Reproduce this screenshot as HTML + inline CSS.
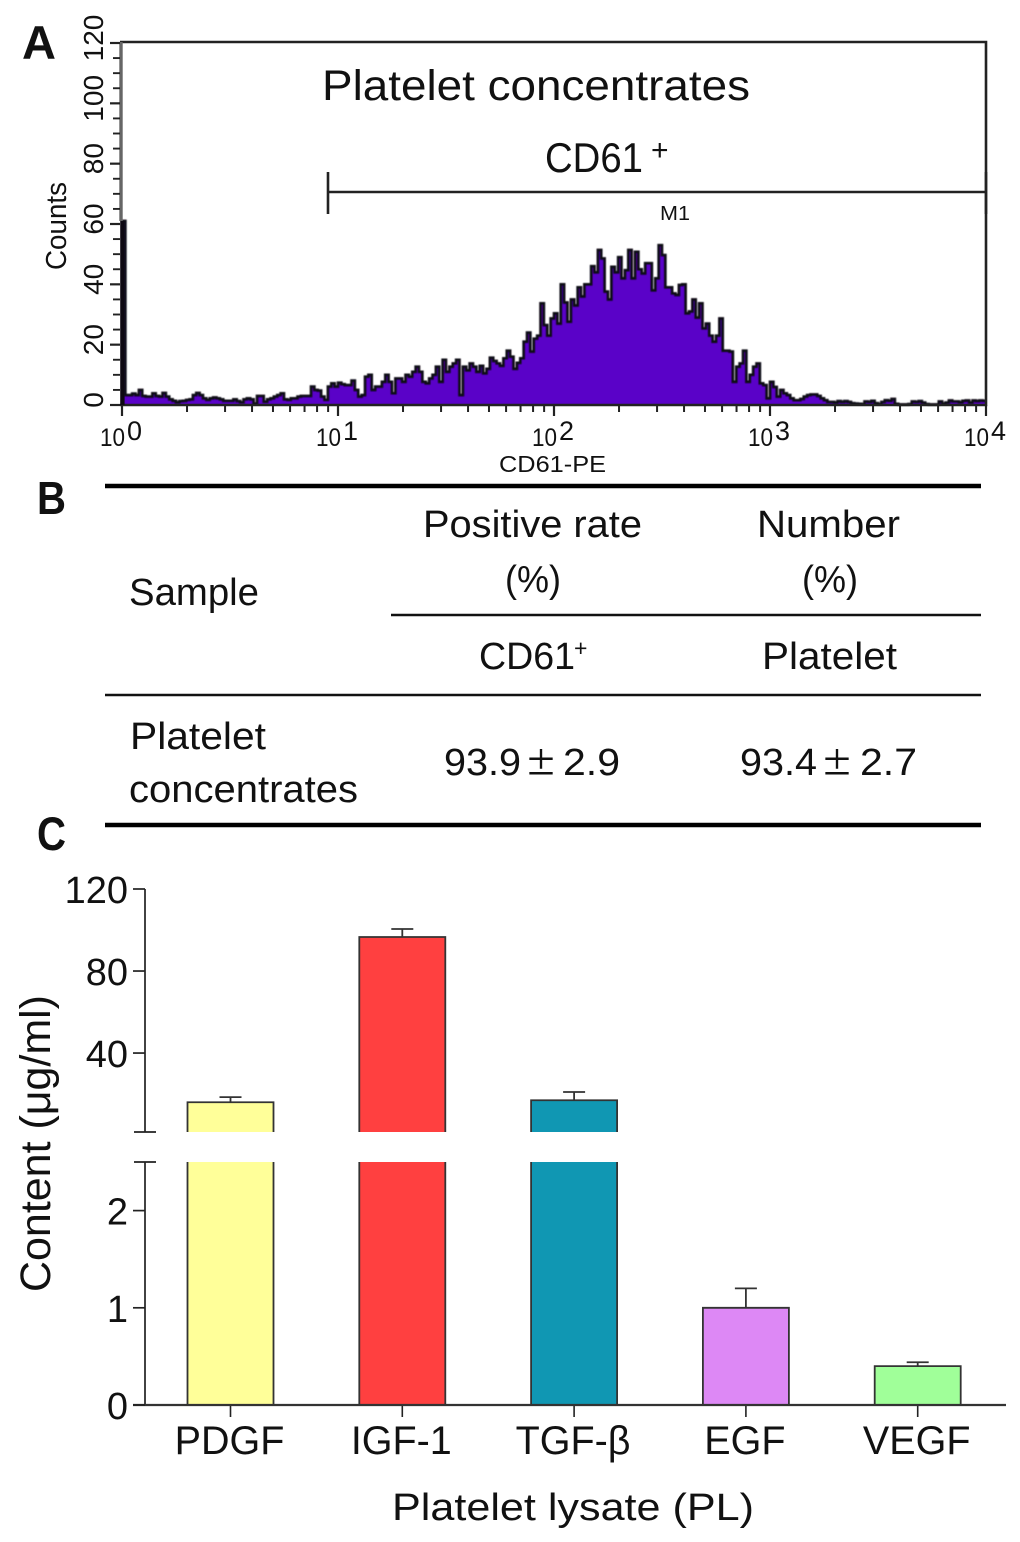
<!DOCTYPE html>
<html lang="en">
<head>
<meta charset="utf-8">
<title>Platelet concentrates figure</title>
<style>
html,body{margin:0;padding:0;background:#fff;}
svg{display:block;}
text{font-family:"Liberation Sans","Noto Sans CJK JP",sans-serif;fill:#111;}
</style>
</head>
<body>
<svg id="fig" xmlns="http://www.w3.org/2000/svg" width="1020" height="1542" viewBox="0 0 1020 1542">
  <defs>
    <filter id="soft" x="-2%" y="-5%" width="104%" height="110%"><feGaussianBlur stdDeviation="0.55"/></filter>
  </defs>
  <rect x="0" y="0" width="1020" height="1542" fill="#fff"/>

  <text x="22" y="59" font-size="47" font-weight="bold" textLength="34" lengthAdjust="spacingAndGlyphs">A</text>
  <text x="37" y="514" font-size="46" font-weight="bold" textLength="29" lengthAdjust="spacingAndGlyphs">B</text>
  <text x="37" y="850" font-size="47" font-weight="bold" textLength="29" lengthAdjust="spacingAndGlyphs">C</text>

  <g id="histogram"></g>
  <text x="322" y="100" font-size="43" textLength="428" lengthAdjust="spacingAndGlyphs" fill="#222">Platelet concentrates</text>
  <text x="545" y="172" font-size="42" textLength="98" lengthAdjust="spacingAndGlyphs">CD61</text>
  <text x="651" y="160" font-size="30">+</text>
  <text x="660" y="220" font-size="20" textLength="30" lengthAdjust="spacingAndGlyphs" fill="#333">M1</text>
  <text x="499" y="472" font-size="23" textLength="107" lengthAdjust="spacingAndGlyphs" fill="#222">CD61-PE</text>
  <text transform="translate(66 270) rotate(-90)" font-size="29" textLength="88" lengthAdjust="spacingAndGlyphs" fill="#222">Counts</text>

  <g>
    <line x1="105" x2="981" y1="486" y2="486" stroke="#000" stroke-width="4.5"/>
    <line x1="391" x2="981" y1="615" y2="615" stroke="#111" stroke-width="2.5"/>
    <line x1="105" x2="981" y1="695" y2="695" stroke="#111" stroke-width="2.5"/>
    <line x1="105" x2="981" y1="825" y2="825" stroke="#000" stroke-width="4.5"/>
    <text x="423" y="537" font-size="38" textLength="219" lengthAdjust="spacingAndGlyphs">Positive rate</text>
    <text x="505" y="592" font-size="38" textLength="56" lengthAdjust="spacingAndGlyphs">(%)</text>
    <text x="757" y="537" font-size="38" textLength="143" lengthAdjust="spacingAndGlyphs">Number</text>
    <text x="802" y="592" font-size="38" textLength="56" lengthAdjust="spacingAndGlyphs">(%)</text>
    <text x="129" y="605" font-size="38" textLength="130" lengthAdjust="spacingAndGlyphs">Sample</text>
    <text x="479" y="669" font-size="38" textLength="96" lengthAdjust="spacingAndGlyphs">CD61</text>
    <text x="574" y="656" font-size="23">+</text>
    <text x="762" y="669" font-size="38" textLength="135" lengthAdjust="spacingAndGlyphs">Platelet</text>
    <text x="130" y="749" font-size="38" textLength="136" lengthAdjust="spacingAndGlyphs">Platelet</text>
    <text x="129" y="802" font-size="38" textLength="229" lengthAdjust="spacingAndGlyphs">concentrates</text>
    <text x="444" y="775" font-size="38" textLength="77" lengthAdjust="spacingAndGlyphs">93.9</text>
    <text x="524" y="776" font-size="36" textLength="34" lengthAdjust="spacingAndGlyphs" style="font-family:'IPAGothic','WenQuanYi Zen Hei',sans-serif">±</text>
    <text x="563" y="775" font-size="38" textLength="57" lengthAdjust="spacingAndGlyphs">2.9</text>
    <text x="740" y="775" font-size="38" textLength="77" lengthAdjust="spacingAndGlyphs">93.4</text>
    <text x="820" y="776" font-size="36" textLength="34" lengthAdjust="spacingAndGlyphs" style="font-family:'IPAGothic','WenQuanYi Zen Hei',sans-serif">±</text>
    <text x="860" y="775" font-size="38" textLength="57" lengthAdjust="spacingAndGlyphs">2.7</text>
  </g>

  <g id="bars"></g>
  <text transform="translate(50 1292) rotate(-90)" font-size="43" textLength="297" lengthAdjust="spacingAndGlyphs">Content (μg/ml)</text>
  <text x="392" y="1520" font-size="38" textLength="362" lengthAdjust="spacingAndGlyphs" fill="#222">Platelet lysate (PL)</text>
</svg>

<script>
// Histogram data: event counts per channel bin
const histCounts = [
61,3.3,3.3,3.8,3.3,5,3,2.8,2.8,3.9,3,2.8,4,2.8,1.9,1.4,0.9,1.3,1.4,1.7,1.9,3.3,4,3.3,2.2,1.7,2.2,2.5,2.2,1.9,1.4,1.4,1.4,1.9,1.3,0.9,1.9,2.2,1.9,0.5,3,3,1.1,1.9,2.2,2.8,3.3,3.9,1.9,1.7,2.2,2.2,2.8,3,3,3,6.1,5,4.8,2.8,1.7,6.1,7.2,6.1,7.4,6.9,6.6,6.6,8.1,5,2.8,3.3,9.4,10,5,6.1,6.1,7.7,10,7.7,3.9,8.8,8.8,7.7,10,9.4,11,
12.7,11,7.7,7.2,8.8,10,12.7,7.7,15,11,12.7,13.8,15,3.3,12.7,11.5,13.8,12.7,11,13,10.5,12,15.7,14.6,13.8,13,15.5,18,16,12,14,15.5,21,24,17.7,22,23,33.7,26.5,23,28.7,30.4,27,40,34,27.6,35,33,39,36,40,40,46,44,51.4,48.6,37.6,
35,45.8,44,49,42,44.7,51.4,42,50.8,45,43.6,47,47,38,42,53,49.7,39,39,37,36.5,39.8,40,30.4,31,35,29,33.7,25.4,27,23,21,23,28.7,18,18,17.7,7.7,12.7,13.8,18,7.7,10,12.7,13.8,7.2,6.6,2.2,7.7,6,2.8,5,3.9,3.3,2.2,1.6,
1.6,2,2.8,3.3,3.5,3.5,3,2.2,1.6,1,1,0.8,1.3,1,1.3,1,0.6,0.5,0.4,0.3,1.2,1,1.4,0.6,0.3,1,1.6,1.4,2,0.4,0.2,0.2,0.2,0.3,1.2,1,1.3,0.8,0.3,0.2,0.2,0.2,1.2,0.5,0.8,1.5,1.2,1.2,0.9,1.4,1.5,0.8,1.5,1.3,1.5,1.4
];
const histYTicks = [0,20,40,60,80,100,120];
const histDecades = [0,1,2,3,4];

// Bar chart data
const barCategories = ['PDGF','IGF-1','TGF-β','EGF','VEGF'];
const barValues = [16,96.6,17,1,0.4];
const barErrors = [2.5,3.9,4,0.2,0.04];
const barColors = ['#ffff99','#ff4040','#1097b3','#dd88f5','#a0ff99'];
const upperTicks = [40,80,120];
const lowerTicks = [0,1,2];
const upperBreak = 1.5;
const lowerBreak = 2.5;

const NS = 'http://www.w3.org/2000/svg';
function mk(parent, tag, attrs, txt){
  const e = document.createElementNS(NS, tag);
  for (const k in attrs) e.setAttribute(k, attrs[k]);
  if (txt !== undefined) e.textContent = txt;
  parent.appendChild(e);
  return e;
}

/* ---------- Panel A ---------- */
(function(){
  const g = document.getElementById('histogram');
  const L = 122, R = 986, T = 43, B = 405, yMax = 120;
  const xLog = v => L + (R - L) / 4 * Math.log10(v);
  const xBin = i => L + i * (R - L) / histCounts.length;
  const y = v => B - v * (B - T) / yMax;

  let d = 'M' + xBin(0) + ' ' + B;
  let line = '';
  histCounts.forEach((c, i) => {
    const seg = 'L' + xBin(i).toFixed(2) + ' ' + y(c).toFixed(2) + 'L' + xBin(i + 1).toFixed(2) + ' ' + y(c).toFixed(2);
    d += seg;
    line += (i === 0 ? 'M' + seg.slice(1) : seg);
  });
  d += 'L' + R + ' ' + B + 'Z';
  const area = mk(g, 'path', {d: d, fill: '#5a02c8', stroke: 'none'});
  
  
  const outline = mk(g, 'path', {d: line, fill: 'none', stroke: '#0d0812', 'stroke-width': 2.6, filter: 'url(#soft)'});
  
  

  const frame = mk(g, 'path', {d: 'M120 ' + (T - 1) + 'H' + R + 'V' + B + 'H120', fill: 'none', stroke: '#222', 'stroke-width': 2.6});
  
  
  const yAxis = mk(g, 'line', {x1: 121, x2: 121, y1: T - 1, y2: y(histCounts[0]), stroke: '#666', 'stroke-width': 3.4});
  
  
  const spike = mk(g, 'line', {x1: xBin(0) + 0.4, x2: xBin(0) + 0.4, y1: y(histCounts[0]), y2: B, stroke: '#0d0812', 'stroke-width': 4.4});
  
  

  for (let v = 0; v <= yMax; v += 5) {
    const major = v % 20 === 0;
    const t = mk(g, 'line', {x1: major ? 110 : 113, x2: 120, y1: y(v), y2: y(v), stroke: '#222', 'stroke-width': major ? 2.2 : 1.9});
    
    
  }
  histYTicks.forEach(v => {
    const t = mk(g, 'text', {transform: 'translate(103 ' + (y(v) - 5) + ') rotate(-90)', 'font-size': 28, 'text-anchor': 'middle', fill: '#222'}, String(v));
    
    
  });

  histDecades.forEach((p, idx) => {
    const base = Math.pow(10, p);
    for (let m = 1; m <= 9; m++) {
      if (idx === histDecades.length - 1 && m > 1) break;
      const xv = xLog(m * base);
      const t = mk(g, 'line', {x1: xv, x2: xv, y1: B, y2: B + (m === 1 ? 11 : 7), stroke: '#222', 'stroke-width': m === 1 ? 2.2 : 2});
      
      
    }
    const tx = mk(g, 'text', {x: xLog(base) - 22, y: 446, 'font-size': 25, textLength: 25, lengthAdjust: 'spacingAndGlyphs', fill: '#222'}, '10');
    
    
    const sup = mk(g, 'text', {x: xLog(base) + 5, y: 440, 'font-size': 27, fill: '#222'}, String(p));
    
    
  });

  const gate = mk(g, 'path', {d: 'M328 172V214M328 192H986M986 172V214', fill: 'none', stroke: '#222', 'stroke-width': 2.6});
  
  
})();

/* ---------- Panel C ---------- */
(function(){
  const g = document.getElementById('bars');
  const axisX = 145, baseY = 1405, breakLowY = 1162, breakUpY = 1132;
  const yUpper = v => 889 + (120 - v) * (breakUpY - 889) / (120 - upperBreak);
  const yLower = v => baseY - v * (baseY - breakLowY) / lowerBreak;
  const xCenter = i => 230.5 + i * 171.8;
  const barW = 86;

  barValues.forEach((v, i) => {
    const l = xCenter(i) - barW / 2, r = xCenter(i) + barW / 2;
    const low = mk(g, 'path', {
      d: v > lowerBreak
        ? 'M' + l + ' ' + breakLowY + 'V' + baseY + 'H' + r + 'V' + breakLowY
        : 'M' + l + ' ' + baseY + 'V' + yLower(v) + 'H' + r + 'V' + baseY,
      fill: barColors[i], stroke: '#333', 'stroke-width': 1.8
    });
    
    
    const scaleY = v > lowerBreak ? yUpper : yLower;
    if (v > lowerBreak) {
      const up = mk(g, 'path', {
        d: 'M' + l + ' ' + breakUpY + 'V' + yUpper(v) + 'H' + r + 'V' + breakUpY,
        fill: barColors[i], stroke: '#333', 'stroke-width': 1.8
      });
      
      
    }
    const c = xCenter(i);
    const err = mk(g, 'path', {
      d: 'M' + c + ' ' + scaleY(v) + 'V' + scaleY(v + barErrors[i]) + 'M' + (c - 11) + ' ' + scaleY(v + barErrors[i]) + 'H' + (c + 11),
      fill: 'none', stroke: '#333', 'stroke-width': 1.8
    });
    
    
    const tick = mk(g, 'line', {x1: c, x2: c, y1: baseY, y2: baseY + 12, stroke: '#222', 'stroke-width': 1.6});
    
    
    const lab = mk(g, 'text', {x: c - 1, y: 1454, 'font-size': 39.5, 'text-anchor': 'middle', fill: '#222'}, barCategories[i]);
    
    
  });

  const axes = mk(g, 'path', {
    d: 'M' + axisX + ' 889V' + breakUpY + 'M' + axisX + ' ' + breakLowY + 'V' + baseY,
    fill: 'none', stroke: '#222', 'stroke-width': 1.7
  });
  
  
  const xAxis = mk(g, 'line', {x1: 133, x2: 1006, y1: baseY, y2: baseY, stroke: '#333', 'stroke-width': 2.2});
  
  
  const breaks = mk(g, 'path', {
    d: 'M134 ' + breakUpY + 'H156M134 ' + breakLowY + 'H156',
    fill: 'none', stroke: '#222', 'stroke-width': 1.7
  });
  
  

  function drawTick(yPos, label){
    const t = mk(g, 'line', {x1: 133, x2: axisX, y1: yPos, y2: yPos, stroke: '#222', 'stroke-width': 1.7});
    
    
    const s = mk(g, 'text', {x: 128, y: yPos + 14, 'font-size': 38, 'text-anchor': 'end', fill: '#222'}, String(label));
    
    
  }
  upperTicks.forEach(v => drawTick(yUpper(v), v));
  lowerTicks.forEach(v => drawTick(yLower(v), v));
})();
</script>
</body>
</html>
